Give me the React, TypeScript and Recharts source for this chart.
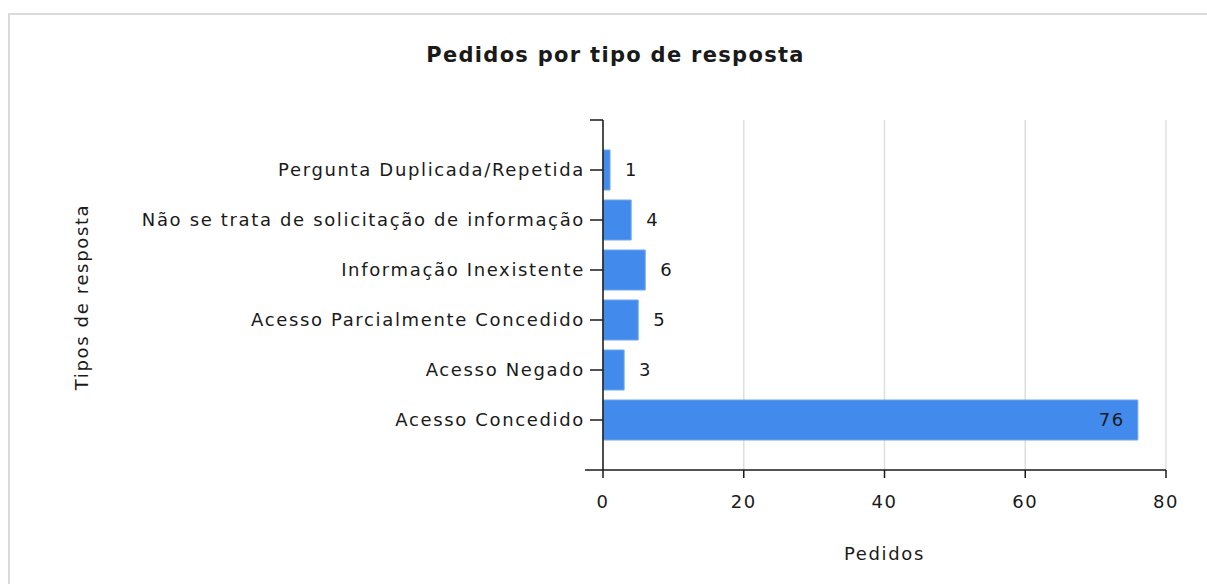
import { BarChart, Bar, XAxis, YAxis, CartesianGrid, LabelList, usePlotArea } from 'recharts';

const categories = [
  'Pergunta Duplicada/Repetida',
  'Não se trata de solicitação de informação',
  'Informação Inexistente',
  'Acesso Parcialmente Concedido',
  'Acesso Negado',
  'Acesso Concedido',
];
const pedidos = [1, 4, 6, 5, 3, 76];
const xTicks = [0, 20, 40, 60, 80];

const data = categories.map((name, i) => ({ name, pedidos: pedidos[i] }));

const colors = {
  bar: '#428BEC',
  barEdge: '#6FA6F0',
  grid: '#DEDEDE',
  axis: '#1A1A1A',
  text: '#1A1A1A',
  frame: '#DADADA',
} as const;

const font = '"DejaVu Sans", Verdana, sans-serif';
const textStyle = { fontFamily: font, fontSize: 18, letterSpacing: 1.65, fill: colors.text };

// little end ticks at the top/bottom of the category axis
const AxisEnds = () => {
  const area = usePlotArea();
  if (!area) return null;
  const { x, y, height } = area;
  return (
    <g>
      <line x1={x - 13} x2={x} y1={y} y2={y} stroke={colors.axis} strokeWidth={1.5} />
      <line x1={x - 18} x2={x} y1={y + height} y2={y + height} stroke={colors.axis} strokeWidth={1.5} />
    </g>
  );
};

const renderValue = (props: any) => {
  const { x, y, width, height, value } = props;
  const inside = value > 40;
  return (
    <text
      x={inside ? x + width - 13 : x + width + 15}
      y={y + height / 2}
      dy="0.35em"
      textAnchor={inside ? 'end' : 'start'}
      style={textStyle}
    >
      {value}
    </text>
  );
};

const renderYLabel = (props: any) => {
  const vb = props.viewBox || {};
  const cx = (vb.x || 0) + 82;
  const cy = (vb.y || 0) + (vb.height || 0) / 2 + 2;
  return (
    <text x={cx} y={cy} dy="0.35em" textAnchor="middle" transform={`rotate(-90, ${cx}, ${cy})`} style={textStyle}>
      Tipos de resposta
    </text>
  );
};

export default function App() {
  return (
    <div style={{ position: 'relative', width: 1207, height: 584, overflow: 'hidden', background: '#fff' }}>
      <style>{'body{margin:0;}'}</style>
      <div
        style={{
          position: 'absolute',
          left: 8,
          top: 13,
          width: 1400,
          height: 800,
          border: `2px solid ${colors.frame}`,
        }}
      />
      <div
        style={{
          position: 'absolute',
          left: 0,
          width: 1231,
          top: 43,
          textAlign: 'center',
          fontFamily: font,
          fontWeight: 'bold',
          fontSize: 21,
          letterSpacing: 1.3,
          color: colors.text,
        }}
      >
        Pedidos por tipo de resposta
      </div>
      <div style={{ position: 'absolute', left: 0, top: 0 }}>
        <BarChart
          width={1207}
          height={584}
          data={data}
          layout="vertical"
          margin={{ top: 120, right: 41, bottom: 0, left: 0 }}
        >
          <CartesianGrid horizontal={false} stroke={colors.grid} strokeWidth={1.5} />
          <XAxis
            type="number"
            domain={[0, 80]}
            ticks={xTicks}
            height={114}
            tickSize={8}
            tickMargin={17}
            axisLine={{ stroke: colors.axis, strokeWidth: 1.5 }}
            tickLine={{ stroke: colors.axis, strokeWidth: 1.5 }}
            tick={textStyle}
            label={{ value: 'Pedidos', position: 'insideBottom', offset: 24, style: textStyle }}
          />
          <YAxis
            type="category"
            dataKey="name"
            width={603}
            tickSize={13}
            tickMargin={5}
            padding={{ top: 25, bottom: 25 }}
            axisLine={{ stroke: colors.axis, strokeWidth: 1.5 }}
            tickLine={{ stroke: colors.axis, strokeWidth: 1.5 }}
            tick={textStyle}
            interval={0}
            label={{ content: renderYLabel }}
          />
          <Bar dataKey="pedidos" fill={colors.bar} stroke={colors.barEdge} strokeWidth={1} barSize={40} isAnimationActive={false}>
            <LabelList dataKey="pedidos" content={renderValue} />
          </Bar>
          <AxisEnds />
        </BarChart>
      </div>
    </div>
  );
}
